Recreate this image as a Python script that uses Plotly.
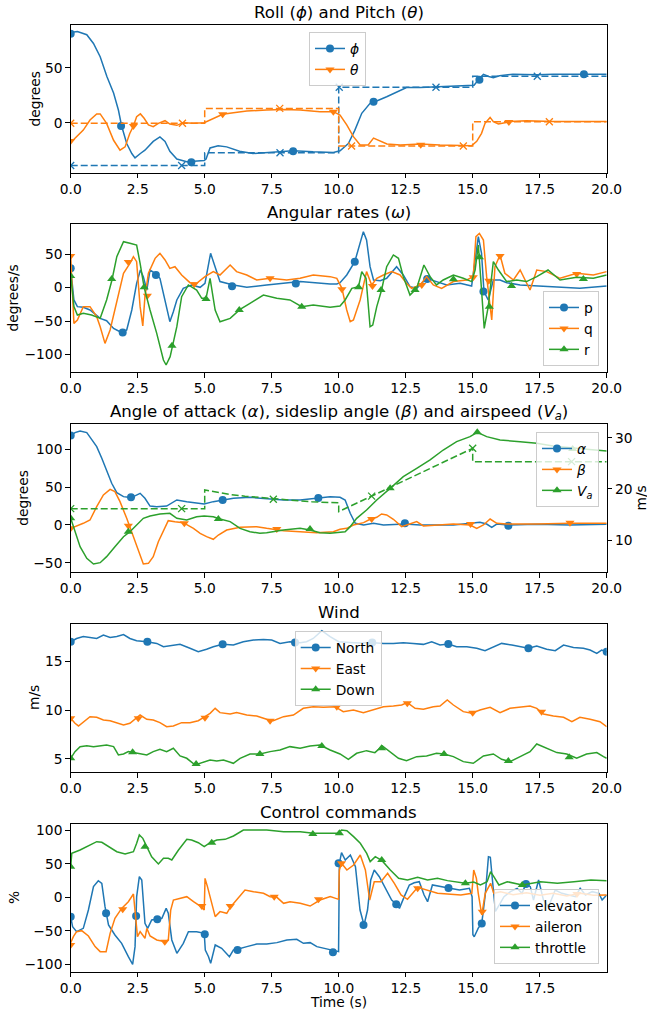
import plotly.graph_objects as go

# ---------------- data ----------------
PHI_T = [0, 0.25, 0.6, 0.85, 1.1, 1.35, 1.6, 1.78, 1.9, 2.09, 2.28, 2.4, 2.6, 2.77, 3.08, 3.33, 3.52, 3.7, 3.96, 4.33, 4.98, 5.05, 5.2, 5.5, 5.82, 6.3, 6.8, 7.56, 8.3, 9.05, 9.8, 10.05, 10.36, 10.6, 10.86, 11.17, 11.35, 11.79, 12.16, 12.53, 13.04, 13.78, 14.65, 15.05, 15.2, 15.4, 15.6, 15.77, 16.0, 16.5, 17.4, 18.0, 19.25, 20]
PHI_V = [82, 83, 80, 72, 60, 42, 27, 11.5, -3, -19, -28, -32, -28, -25, -17, -13, -17, -26, -33, -35.5, -34.5, -33, -23, -21, -22, -26, -28, -26.5, -25.5, -26.5, -27, -25.5, -19, -7, 8.5, 17.6, 19, 23.6, 28, 32, 32, 32.7, 33.3, 34, 38.5, 44, 42, 41, 42.7, 44, 43.6, 44, 44, 44]
PHI_MT = [0, 1.88, 4.5, 8.3, 11.3, 15.25, 19.15]
PHI_MV = [81, -3, -36, -26, 19, 39, 44]

THETA_T = [0, 0.22, 0.47, 0.72, 0.97, 1.1, 1.34, 1.6, 1.84, 2.03, 2.2, 2.34, 2.46, 2.6, 2.74, 2.9, 3.08, 3.27, 3.52, 3.7, 3.96, 4.2, 4.58, 4.98, 5.32, 5.67, 6.07, 6.57, 7.31, 7.94, 8.56, 9.3, 9.8, 10.05, 10.3, 10.55, 10.8, 11.1, 11.3, 11.48, 11.8, 12.3, 13.04, 13.78, 14.53, 14.96, 15.15, 15.33, 15.46, 15.65, 15.77, 15.96, 16.2, 16.4, 17.0, 18.0, 20]
THETA_V = [-18, -12.7, -6.7, 2.4, 8, 8, -0.6, -16, -25, -22, -10, -3, 5.5, 8, 4, -2, -3.6, -0.6, 1.8, -1.2, -2.4, 0, -0.6, 0, 4, 7.6, 9, 10.6, 11.5, 12, 11.5, 10, 10, 7, -2, -12.7, -20.3, -20.3, -14, -16, -19.4, -20.3, -19.4, -20.3, -21, -21, -17, -9.7, -0.6, 4.8, 1, -1.2, 0, 1, 1.8, 1, 1]
THETA_MT = [0, 2.34, 5.67, 9.8, 13.06, 16.35]
THETA_MV = [-16.6, -3, 7.6, 10, -20, 0.6]

PHIREF_T = [0, 5, 5, 10, 10, 15, 15, 20]
PHIREF_V = [-39, -39, -27.3, -27.3, 32.2, 32.2, 42.2, 42.2]
PHIREF_MT = [0, 4.14, 7.81, 10.02, 13.63, 17.41]
PHIREF_MV = [-39, -39, -27.3, 32.2, 32.2, 42.2]
THETAREF_T = [0, 5, 5, 10, 10, 15, 15, 20]
THETAREF_V = [-0.5, -0.5, 13, 13, -21.2, -21.2, 0.9, 0.9]
THETAREF_MT = [0, 4.17, 7.8, 10.48, 14.65, 17.86]
THETAREF_MV = [-0.5, -0.5, 13, -21.2, -21.2, 0.9]

P_T = [0, 0.12, 0.25, 0.47, 0.72, 0.97, 1.1, 1.34, 1.6, 1.84, 1.94, 2.09, 2.28, 2.46, 2.6, 2.71, 2.84, 2.96, 3.15, 3.33, 3.52, 3.7, 3.83, 3.96, 4.2, 4.51, 4.83, 5.01, 5.22, 5.39, 5.57, 6.07, 6.57, 7.31, 8.06, 8.56, 9.68, 9.93, 10.05, 10.3, 10.6, 10.77, 10.92, 11.04, 11.17, 11.3, 11.55, 11.79, 12.16, 12.41, 12.66, 12.91, 13.28, 13.65, 14.03, 14.53, 14.96, 15.09, 15.21, 15.33, 15.42, 15.58, 15.77, 16.02, 16.27, 16.77, 17.39, 18.0, 19.0, 20]
P_V = [28.8, -18.5, -28.5, -29.5, -33.5, -41, -46, -49.5, -61, -66, -67, -63.4, -33.5, 6.4, 26.3, 16.4, -3.6, 26.3, 21.4, 13.9, -18.5, -51, -36, -18.5, -1, 4, 0.4, 6.4, 51.3, 31.3, 9, 4, 0.4, 4, 7.4, 9, 5.4, 5.4, 7.4, 18.9, 38.8, 61.3, 83.7, 71.2, 31.3, 11.4, 10.4, 13.9, 31.3, 18.9, 1.4, -1.1, 13.9, 9, 4, 6.4, 2.4, 41.3, 76.2, 51.3, -6, -18.5, 11.4, 11.4, 7.4, 4, 2.4, 1.4, -1.1, 2.4]
P_MT = [0, 1.94, 3.18, 6.02, 8.4, 10.6, 13.3, 15.4]
P_MV = [28.8, -67, 19, 2, 6, 38.8, 12.9, -6]

Q_T = [0, 0.12, 0.25, 0.47, 0.72, 0.97, 1.1, 1.28, 1.47, 1.72, 1.97, 2.21, 2.34, 2.46, 2.59, 2.69, 2.77, 2.9, 3.15, 3.33, 3.52, 3.7, 3.89, 4.14, 4.45, 4.7, 5.01, 5.32, 5.57, 5.95, 6.19, 6.57, 6.94, 7.44, 8.06, 8.56, 9.05, 9.68, 9.93, 10.12, 10.3, 10.43, 10.55, 10.8, 11.04, 11.23, 11.42, 11.67, 11.98, 12.29, 12.53, 12.72, 13.04, 13.28, 13.53, 13.84, 14.28, 14.78, 15.02, 15.12, 15.25, 15.4, 15.52, 15.71, 15.83, 16.02, 16.2, 16.52, 16.77, 17.14, 17.39, 17.76, 18.26, 18.88, 19.5, 20]
Q_V = [47.3, -53.5, -48.5, -28.5, -28.5, -43.5, -58.5, -83.4, -63.4, -18.5, 21.4, 36.3, 46.3, 38.8, -28.5, -57.4, -13.5, 21.4, 43.8, 51.3, 41.3, 28.8, 31.3, 18.9, 7.4, 6.4, 16.4, 23.9, 18.9, 33.8, 23.9, 18.9, 11.4, 13.9, 11.4, 13.9, 18.9, 16.4, 13.9, -1.1, -33.5, -51, -48.5, -18.5, 23.9, 4, 13.9, 18.9, 23.9, 18.9, 6.4, -1.1, 4, 16.4, 4, -1.1, 9, 11.4, 16.4, 76.2, 81.2, 71.2, 16.4, -48.5, 31.3, 48.8, 21.4, 11.4, 26.3, -3.6, 26.3, 23.9, 13.9, 21.4, 18.9, 23.9]
Q_MT = [0, 2.15, 2.86, 4.61, 7.44, 10.12, 11.26, 13.1, 15.02, 15.6, 16.02, 18.88]
Q_MV = [47.3, 38.3, -12, 5, 13.9, -2.6, 2.4, 4, 15.4, 10.4, 47.3, 20.4]

R_T = [0, 0.12, 0.25, 0.47, 0.78, 1.1, 1.34, 1.54, 1.72, 1.97, 2.21, 2.46, 2.59, 2.74, 2.96, 3.21, 3.46, 3.56, 3.71, 3.81, 3.96, 4.14, 4.39, 4.7, 4.89, 5.05, 5.2, 5.39, 5.57, 5.95, 6.32, 6.69, 7.19, 7.69, 8.18, 8.62, 9.05, 9.68, 10.05, 10.24, 10.49, 10.74, 10.86, 11.02, 11.17, 11.27, 11.42, 11.6, 11.79, 12.04, 12.23, 12.41, 12.66, 12.91, 13.18, 13.41, 13.65, 13.9, 14.28, 14.65, 14.96, 15.09, 15.21, 15.33, 15.43, 15.58, 15.77, 15.96, 16.27, 16.64, 17.01, 17.39, 17.81, 18.26, 18.88, 19.5, 20]
R_V = [18.9, -28.5, -41, -38.5, -41, -46, -18.5, 11.4, 46.3, 68.7, 66.2, 63.7, 36.3, 0.4, -33.5, -68.4, -108.3, -115.8, -103.3, -85.9, -58.5, -13.5, 4, -3.6, -16, -16, 13.9, -33.5, -51, -46, -32.5, -23.5, -11.1, -16, -18.5, -28.5, -26, -29.5, -27.5, -18.5, -1.1, 1.4, 23.9, 13.9, -58.5, -56, -28.5, -3.6, 31.3, 48.8, 43.8, 16.4, -11.1, -1.1, 33.8, 16.4, 4, 11.4, 18.9, 13.9, 9, 26.3, 63.8, -3.6, -61, -28.5, 38.8, 26.3, 9, 11.4, 9, 16.4, 26.3, 11.4, 15.4, 13.9, 18.9]
R_MT = [0, 1.53, 2.74, 3.78, 5.05, 6.29, 8.62, 10.74, 11.58, 12.85, 14.28, 15.25, 15.62, 16.45, 19.13]
R_MV = [17.4, 12.9, 0.4, -86.9, -17, -33.5, -28.5, 0.4, -3.6, -3.6, 12.4, 45.3, -28.5, 2.4, 12.9]

ALPHA_T = [0, 0.16, 0.35, 0.6, 0.78, 0.97, 1.16, 1.34, 1.53, 1.72, 1.97, 2.15, 2.34, 2.59, 2.77, 2.96, 3.21, 3.58, 3.96, 4.33, 4.7, 4.98, 5.32, 5.67, 6.07, 6.69, 7.31, 7.94, 8.56, 9.18, 9.68, 10.05, 10.24, 10.43, 10.62, 10.93, 11.3, 11.67, 12.47, 13.04, 14.28, 15.27, 15.52, 15.71, 15.9, 16.33, 17.39, 18.63, 20]
ALPHA_V = [118, 121.8, 124, 121.8, 113, 103.3, 88, 72.6, 55, 42.7, 37.4, 36.5, 37.4, 41.8, 35.2, 25, 24.2, 25, 33, 30.8, 28.6, 27.7, 30.8, 33, 35.2, 36.5, 35.2, 33, 33, 35.2, 37.4, 36.5, 33, 15.4, 2.2, 0, 2.2, 0, 1.3, 0, 0, 3.5, 1.3, -3, 1.3, 0, 0.9, 0, 0.9]
ALPHA_MT = [0, 2.25, 5.67, 9.24, 12.47, 16.33]
ALPHA_MV = [118, 36.5, 33, 35.6, 2.2, -1]

BETA_T = [0, 0.16, 0.47, 0.72, 0.97, 1.22, 1.47, 1.65, 1.84, 2.09, 2.34, 2.52, 2.71, 2.9, 3.08, 3.27, 3.46, 3.64, 3.89, 4.2, 4.58, 4.83, 5.07, 5.32, 5.51, 5.82, 6.32, 6.94, 7.31, 7.94, 8.56, 9.18, 9.8, 10.05, 10.3, 10.55, 10.93, 11.17, 11.42, 11.6, 11.79, 12.04, 12.35, 12.66, 12.91, 13.16, 13.65, 14.28, 14.9, 15.15, 15.4, 15.65, 15.9, 16.27, 17.39, 18.63, 20]
BETA_V = [-4.4, -2.2, 2.2, 6.6, 24.2, 39.6, 47, 44, 30.8, 8.8, -15.4, -33, -51.5, -50.6, -41.8, -22, -6.6, 5.7, 4.4, 3.1, -4.4, -11, -15.4, -18.9, -13.2, -6.6, -3.1, -2.2, -4.4, -7.5, -8.8, -10.1, -8.8, -5.7, -4.4, 0, 3.1, 7.5, 10.1, 14.5, 13.2, 7.5, -2.2, 1.3, 4.4, -1.3, 0, 1.3, 0, -4.4, 0, 7.9, 2.2, 1.3, 1.3, 2.2, 2.2]
BETA_MT = [0, 2.15, 4.24, 7.69, 11.23, 14.92, 18.63]
BETA_MV = [-4.4, -0.9, 2.2, -5.3, 7.9, 1.3, 3.1]

VA_T = [0, 0.16, 0.35, 0.6, 0.85, 1.1, 1.34, 1.65, 1.97, 2.21, 2.46, 2.71, 2.96, 3.33, 3.7, 3.96, 4.33, 4.7, 4.98, 5.32, 5.57, 5.95, 6.32, 6.69, 7.06, 7.31, 7.94, 8.56, 8.93, 9.3, 9.68, 9.99, 10.24, 10.43, 10.67, 11.04, 11.42, 11.92, 12.41, 12.91, 13.41, 13.9, 14.4, 14.9, 15.17, 15.52, 16.02, 16.77, 17.39, 18.0, 18.76, 19.25, 20]
VA_V = [14.27, 11.66, 8.73, 6.45, 5.34, 5.6, 6.78, 8.73, 10.68, 11.66, 12.96, 14.27, 14.72, 15.11, 15.24, 14.27, 13.94, 14.59, 14.72, 14.59, 14.14, 13.62, 12.31, 11.66, 11.34, 11.47, 11.99, 12.31, 11.99, 11.47, 11.34, 11.47, 11.66, 12.64, 14.27, 15.9, 17.85, 20.13, 22.41, 24.04, 25.67, 27.62, 29.25, 30.23, 31.07, 30.23, 29.58, 29.25, 28.92, 28.4, 27.95, 27.75, 27.43]
VA_MT = [0, 2.15, 5.51, 8.93, 11.92, 15.17, 18.73]
VA_MV = [14.27, 11.66, 14.14, 12.2, 20.13, 31.07, 27.8]

VAREF_T = [0, 5, 5, 5.5, 6.0, 6.5, 7.0, 7.5, 8.0, 8.5, 9.0, 9.5, 10, 10, 15, 15, 20]
VAREF_V = [16.16, 16.16, 19.8, 19.3, 18.9, 18.6, 18.35, 18.1, 17.9, 17.7, 17.5, 17.4, 17.3, 15.57, 27.95, 25.34, 25.34]
VAREF_MT = [0, 4.14, 7.56, 11.23, 15.0, 18.69]
VAREF_MV = [16.16, 16.16, 18.0, 18.6, 27.95, 25.34]

N_T = [0, 0.22, 0.47, 0.72, 0.97, 1.22, 1.47, 1.72, 1.97, 2.21, 2.46, 2.84, 3.21, 3.46, 3.7, 4.08, 4.45, 4.76, 5.07, 5.32, 5.67, 6.07, 6.44, 6.82, 7.19, 7.5, 7.81, 8.18, 8.56, 8.8, 9.05, 9.37, 9.68, 10.0, 10.4, 10.8, 11.2, 11.67, 12.04, 12.41, 12.78, 13.16, 13.47, 13.78, 14.09, 14.4, 14.78, 15.15, 15.46, 15.77, 16.08, 16.46, 16.77, 17.08, 17.39, 17.76, 18.08, 18.39, 18.76, 19.13, 19.38, 19.63, 19.81, 20]
N_V = [16.97, 17.3, 17.5, 17.4, 17.3, 17.65, 17.4, 17.5, 17.7, 17.3, 17.07, 16.97, 16.8, 16.46, 16.53, 16.7, 16.3, 15.95, 16.2, 16.46, 16.7, 16.63, 16.97, 17.14, 17.2, 17.14, 16.8, 16.97, 16.87, 16.97, 17.3, 18.1, 17.5, 16.97, 16.9, 16.85, 16.9, 16.8, 16.8, 16.87, 16.8, 16.7, 16.97, 16.63, 16.73, 16.46, 16.46, 16.3, 16.05, 16.46, 16.8, 16.63, 16.46, 16.3, 16.53, 16.2, 16.05, 16.63, 16.39, 16.3, 16.12, 15.78, 16.12, 15.95]
N_MT = [0, 2.86, 5.67, 8.37, 11.25, 14.09, 17.08, 20]
N_MV = [16.97, 16.97, 16.7, 16.9, 16.9, 16.73, 16.3, 15.95]

E_T = [0, 0.16, 0.29, 0.47, 0.72, 0.97, 1.22, 1.47, 1.72, 1.97, 2.21, 2.4, 2.59, 2.84, 3.08, 3.33, 3.58, 3.83, 4.14, 4.45, 4.76, 5.01, 5.2, 5.39, 5.57, 5.95, 6.19, 6.57, 6.94, 7.31, 7.56, 7.94, 8.31, 8.68, 9.05, 9.43, 9.68, 9.86, 10.17, 10.55, 10.92, 11.3, 11.67, 12.04, 12.35, 12.56, 12.85, 13.16, 13.53, 13.78, 14.05, 14.28, 14.65, 14.96, 15.27, 15.65, 16.02, 16.39, 16.77, 17.14, 17.39, 17.64, 18.01, 18.39, 18.7, 19.0, 19.38, 19.75, 20]
E_V = [9.15, 8.64, 8.37, 8.81, 9.32, 9.25, 8.98, 8.91, 8.71, 8.47, 8.64, 9.05, 9.49, 9.05, 8.98, 8.71, 8.3, 8.37, 8.71, 8.71, 8.91, 9.32, 9.66, 10.17, 9.73, 9.59, 9.73, 9.49, 9.39, 9.05, 8.91, 9.32, 9.49, 10.17, 10.34, 10.27, 10.34, 10.34, 9.83, 10.0, 9.73, 10.0, 10.34, 10.41, 10.51, 10.75, 10.17, 10.07, 10.34, 10.41, 11.02, 10.51, 9.83, 9.66, 10.0, 10.27, 9.73, 10.17, 10.27, 10.41, 10.17, 9.59, 9.39, 9.25, 8.81, 9.25, 9.05, 8.81, 8.3]
E_MT = [0, 2.52, 5.01, 7.44, 9.93, 12.56, 15.0, 17.57]
E_MV = [9.15, 9.15, 9.22, 8.91, 10.34, 10.68, 9.73, 9.83]

D_T = [0, 0.16, 0.35, 0.6, 0.85, 1.1, 1.34, 1.6, 1.78, 1.97, 2.15, 2.34, 2.59, 2.84, 3.08, 3.33, 3.58, 3.83, 4.08, 4.33, 4.64, 4.95, 5.2, 5.45, 5.7, 6.07, 6.32, 6.69, 7.06, 7.44, 7.81, 8.18, 8.56, 8.93, 9.3, 9.68, 10.05, 10.36, 10.67, 11.04, 11.35, 11.63, 11.92, 12.23, 12.53, 12.91, 13.28, 13.65, 13.93, 14.28, 14.65, 15.02, 15.4, 15.77, 16.08, 16.39, 16.77, 17.14, 17.39, 17.76, 18.14, 18.51, 18.88, 19.25, 19.63, 19.88, 20]
D_V = [5.07, 5.75, 6.26, 6.36, 6.26, 6.33, 6.43, 6.26, 5.41, 5.51, 5.75, 5.65, 5.51, 5.41, 5.75, 5.99, 5.75, 6.09, 5.31, 5.07, 4.39, 4.63, 4.9, 4.8, 4.9, 4.56, 5.07, 5.51, 5.51, 5.75, 5.92, 6.26, 6.09, 6.33, 6.43, 5.92, 5.51, 4.97, 5.58, 5.85, 5.65, 6.33, 5.75, 5.07, 4.83, 5.24, 5.31, 5.58, 5.51, 5.24, 4.73, 4.56, 5.31, 5.51, 4.97, 4.73, 5.24, 5.75, 6.53, 6.09, 5.65, 5.51, 5.07, 5.51, 5.65, 5.24, 5.07]
D_MT = [0, 2.31, 4.68, 7.06, 9.37, 11.6, 13.93, 16.33, 18.6]
D_MV = [5.07, 5.68, 4.49, 5.51, 6.33, 6.09, 5.51, 4.8, 5.17]

EL_T = [0, 0.07, 0.22, 0.47, 0.66, 0.85, 1.03, 1.16, 1.28, 1.41, 1.65, 1.9, 2.15, 2.31, 2.4, 2.46, 2.56, 2.65, 2.77, 2.87, 3.02, 3.21, 3.4, 3.56, 3.64, 3.77, 3.96, 4.2, 4.39, 4.7, 4.98, 5.02, 5.14, 5.22, 5.39, 5.63, 5.92, 6.07, 6.22, 6.57, 6.94, 7.31, 7.69, 8.06, 8.43, 8.68, 8.93, 9.18, 9.68, 9.99, 10.02, 10.1, 10.24, 10.43, 10.62, 10.79, 10.94, 11.07, 11.19, 11.32, 11.51, 11.76, 11.97, 12.14, 12.26, 12.44, 12.63, 12.81, 13.0, 13.18, 13.31, 13.49, 13.74, 14.09, 14.5, 14.87, 14.97, 15.0, 15.05, 15.2, 15.33, 15.46, 15.58, 15.65, 15.74, 15.84, 16.0, 16.16, 16.4, 16.65, 16.83, 16.98, 17.14, 17.26, 17.45, 17.63, 17.82, 18.07, 18.32, 18.57, 18.82, 19.0, 19.2, 19.45, 19.7, 19.82, 19.99]
EL_V = [-28.9, -43.9, -51.4, -46.4, -19, 16, 24.9, 20.9, -14, -41.4, -56.4, -68.8, -88.8, -100.2, -73.8, 1, 30.9, 25.9, -38.9, -46.4, -33.9, -32.9, -31.4, -16.5, -23.9, -63.8, -83.8, -68.8, -51.4, -51.4, -53.9, -78.8, -88.8, -98.8, -71.3, -76.3, -88.8, -78.8, -77.8, -73.8, -69.8, -69.8, -67.8, -63.8, -62.8, -68.8, -67.8, -73.8, -78.8, -81.3, 50.9, 66.8, 55.9, 63.3, 45.9, -19, -41.4, -19, 25.9, 40.9, 30.9, 11, -4, -10, -16.5, 1, 18.5, 21.9, 23.4, 3.5, -6.5, 18.5, 17, 14, 11, 13.5, 1, -56, -59, -46, -39, 3.5, 60.8, 60, 21, -21, -10, 1, 8.5, 13.5, 6, 20, 16, -4, 26, -4, -14, 11, 6, 3.5, 1, 13.5, 3.5, 8.5, 6, -4, 3.5]
EL_MT = [0, 1.32, 2.44, 3.23, 5.0, 6.22, 9.78, 9.99, 10.92, 12.14, 14.09, 15.33, 16.98]
EL_MV = [-28.9, -23.9, -27.9, -32.9, -55.4, -78.8, -82.3, 50.9, -41.4, -10.5, 14, -39, 20]

AIL_T = [0, 0.1, 0.22, 0.41, 0.66, 0.91, 1.1, 1.32, 1.47, 1.65, 1.9, 2.15, 2.34, 2.4, 2.49, 2.59, 2.77, 2.84, 2.96, 3.21, 3.52, 3.64, 3.73, 3.83, 4.08, 4.33, 4.58, 4.83, 4.98, 5.01, 5.1, 5.26, 5.39, 5.57, 5.82, 5.97, 6.13, 6.32, 6.5, 6.82, 7.19, 7.44, 7.69, 7.94, 8.18, 8.56, 8.93, 9.3, 9.68, 9.99, 10.02, 10.1, 10.3, 10.55, 10.8, 10.99, 11.15, 11.32, 11.57, 11.82, 12.07, 12.32, 12.56, 12.94, 13.31, 13.68, 14.05, 14.55, 14.96, 15.03, 15.13, 15.2, 15.33, 15.46, 15.66, 15.78, 16.03, 16.5, 17.0, 17.5, 18.0, 18.5, 19.0, 19.5, 19.99]
AIL_V = [-68, -58.9, -51.4, -49.9, -57.9, -73.8, -81.3, -81.3, -53.9, -31.4, -16.5, -6.5, 5, -23.9, -58.9, -51.4, -61.3, -46.4, -57.9, -63.8, -66.3, -63.8, -19, -4, -1.5, 1, -6.5, -13, -19, 28.4, 16, -9, -28.9, -21.4, -23.9, -14, -6.5, 1, 11, 8.5, 6, 1, 0, -9, -6.5, -9, -13, -4, 1, -3, 40.9, 50.9, 40.9, 48.4, 63.3, 40.9, -4, 23.4, 23.4, 35.9, 20.9, 3.5, -3, 15, 10, 6, 5, 3.5, 6, 40.9, 28.4, 6, -26.4, 6, 21, 6, 8.5, 4, 7, 3, 6, 2, 6, 3, 3.5]
AIL_MT = [0, 1.94, 3.51, 4.89, 5.95, 7.59, 9.24, 10.1, 12.94, 15.35, 18.88]
AIL_MV = [-71.3, -18, -66.3, -13, -13, 1, -3, 50.9, 13.5, -21.4, 5]

THR_T = [0, 0.04, 0.35, 0.72, 0.97, 1.16, 1.41, 1.72, 2.03, 2.34, 2.46, 2.56, 2.69, 2.84, 3.02, 3.27, 3.46, 3.64, 3.77, 4.02, 4.33, 4.51, 4.76, 4.98, 5.2, 5.45, 5.76, 6.07, 6.44, 6.82, 7.31, 7.94, 8.56, 9.05, 9.68, 9.99, 10.1, 10.3, 10.55, 10.8, 11.04, 11.17, 11.36, 11.61, 11.92, 12.23, 12.56, 12.94, 13.31, 13.68, 14.05, 14.28, 14.72, 15.03, 15.28, 15.53, 15.66, 15.78, 15.97, 16.28, 16.84, 17.52, 18.15, 18.77, 19.4, 19.99]
THR_V = [45.9, 65.8, 70.8, 78.3, 83.3, 82.3, 75.8, 68.3, 64.8, 68.3, 80.8, 93.3, 88.3, 75.8, 60.8, 49.9, 58.4, 58.4, 55.9, 70.8, 86.8, 85.8, 81.8, 75.8, 81.8, 85.8, 86.8, 91.8, 100.7, 100.7, 100.7, 98.3, 98.3, 95.8, 95.8, 95.8, 100.7, 99.8, 90.8, 80.8, 65.8, 53.4, 60.8, 54.9, 40.9, 28.4, 25.9, 29.9, 25.9, 28.4, 25, 23.4, 21, 23, 18.5, 23.4, 38.4, 31, 18.5, 23.4, 18.5, 23.4, 21, 23.4, 26, 25]
THR_MT = [0, 2.77, 5.26, 9.03, 10.02, 11.6, 14.72, 16.84]
THR_MV = [45.9, 75.8, 81.8, 94.8, 95.8, 55.9, 21, 18.5]

X_TICKS = [0, 2.5, 5, 7.5, 10, 12.5, 15, 17.5, 20]
X_TICKTEXT = ["0.0", "2.5", "5.0", "7.5", "10.0", "12.5", "15.0", "17.5", "20.0"]

# ---------------- styling / layout ----------------
BLUE, ORANGE, GREEN = "#1f77b4", "#ff7f0e", "#2ca02c"
FONT = "DejaVu Sans"
W, H = 647, 1012
X0, X1 = 70.7, 606.7
PANELS = [(24.5, 172.5), (224.3, 372.3), (424.0, 572.3), (623.7, 772.3), (823.5, 971.7)]
TICK_FS = 13.8
TITLE_FS = 16.6

fig = go.Figure()


def line(t, v, color, xa, ya, dash=None):
    fig.add_trace(go.Scatter(x=t, y=v, mode="lines", xaxis=xa, yaxis=ya,
                             line=dict(color=color, width=1.5, dash=dash),
                             showlegend=False, hoverinfo="skip"))


def marks(t, v, color, symbol, xa, ya, size=8):
    if symbol == "x-thin":
        mk = dict(symbol=symbol, size=7, color=color, line=dict(color=color, width=1.3))
    else:
        mk = dict(symbol=symbol, size=size, color=color, line=dict(width=0))
    fig.add_trace(go.Scatter(x=t, y=v, mode="markers", xaxis=xa, yaxis=ya,
                             marker=mk, showlegend=False, hoverinfo="skip"))


def entry(name, color, symbol, xa, ya, legend):
    fig.add_trace(go.Scatter(x=[None], y=[None], mode="lines+markers", name=name,
                             xaxis=xa, yaxis=ya, legend=legend,
                             line=dict(color=color, width=1.5),
                             marker=dict(symbol=symbol, size=8, color=color)))


DASH = "7px,3px"
# Panel 1
line(PHI_T, PHI_V, BLUE, "x", "y")
marks(PHI_MT, PHI_MV, BLUE, "circle", "x", "y")
line(THETA_T, THETA_V, ORANGE, "x", "y")
marks(THETA_MT, THETA_MV, ORANGE, "triangle-down", "x", "y")
line(PHIREF_T, PHIREF_V, BLUE, "x", "y", DASH)
marks(PHIREF_MT, PHIREF_MV, BLUE, "x-thin", "x", "y")
line(THETAREF_T, THETAREF_V, ORANGE, "x", "y", DASH)
marks(THETAREF_MT, THETAREF_MV, ORANGE, "x-thin", "x", "y")
entry("<i>ϕ</i>", BLUE, "circle", "x", "y", "legend")
entry("<i>θ</i>", ORANGE, "triangle-down", "x", "y", "legend")

# Panel 2
line(P_T, P_V, BLUE, "x2", "y2")
marks(P_MT, P_MV, BLUE, "circle", "x2", "y2")
line(Q_T, Q_V, ORANGE, "x2", "y2")
marks(Q_MT, Q_MV, ORANGE, "triangle-down", "x2", "y2")
line(R_T, R_V, GREEN, "x2", "y2")
marks(R_MT, R_MV, GREEN, "triangle-up", "x2", "y2")
entry("p", BLUE, "circle", "x2", "y2", "legend2")
entry("q", ORANGE, "triangle-down", "x2", "y2", "legend2")
entry("r", GREEN, "triangle-up", "x2", "y2", "legend2")

# Panel 3
line(ALPHA_T, ALPHA_V, BLUE, "x3", "y3")
marks(ALPHA_MT, ALPHA_MV, BLUE, "circle", "x3", "y3")
line(BETA_T, BETA_V, ORANGE, "x3", "y3")
marks(BETA_MT, BETA_MV, ORANGE, "triangle-down", "x3", "y3")
line(VA_T, VA_V, GREEN, "x3", "y6")
marks(VA_MT, VA_MV, GREEN, "triangle-up", "x3", "y6")
line(VAREF_T, VAREF_V, GREEN, "x3", "y6", DASH)
marks(VAREF_MT, VAREF_MV, GREEN, "x-thin", "x3", "y6")
entry("<i>α</i>", BLUE, "circle", "x3", "y3", "legend3")
entry("<i>β</i>", ORANGE, "triangle-down", "x3", "y3", "legend3")
entry("<i>V</i><sub><i>a</i></sub>", GREEN, "triangle-up", "x3", "y3", "legend3")

# Panel 4
line(N_T, N_V, BLUE, "x4", "y4")
marks(N_MT, N_MV, BLUE, "circle", "x4", "y4")
line(E_T, E_V, ORANGE, "x4", "y4")
marks(E_MT, E_MV, ORANGE, "triangle-down", "x4", "y4")
line(D_T, D_V, GREEN, "x4", "y4")
marks(D_MT, D_MV, GREEN, "triangle-up", "x4", "y4")
entry("North", BLUE, "circle", "x4", "y4", "legend4")
entry("East", ORANGE, "triangle-down", "x4", "y4", "legend4")
entry("Down", GREEN, "triangle-up", "x4", "y4", "legend4")

# Panel 5
line(EL_T, EL_V, BLUE, "x5", "y5")
marks(EL_MT, EL_MV, BLUE, "circle", "x5", "y5")
line(AIL_T, AIL_V, ORANGE, "x5", "y5")
marks(AIL_MT, AIL_MV, ORANGE, "triangle-down", "x5", "y5")
line(THR_T, THR_V, GREEN, "x5", "y5")
marks(THR_MT, THR_MV, GREEN, "triangle-up", "x5", "y5")
entry("elevator", BLUE, "circle", "x5", "y5", "legend5")
entry("aileron", ORANGE, "triangle-down", "x5", "y5", "legend5")
entry("throttle", GREEN, "triangle-up", "x5", "y5", "legend5")


def px(xv):
    return xv / W


def py(yv):
    return 1 - yv / H


def minus(v):
    s = ("%g" % v)
    return s.replace("-", "\u2212")


axis_common = dict(showline=True, mirror=True, linecolor="black", linewidth=1,
                   ticks="outside", ticklen=4.5, tickwidth=1, tickcolor="black",
                   showgrid=False, zeroline=False, automargin=False,
                   tickfont=dict(family=FONT, size=TICK_FS, color="black"))

Y_RANGES = [[-45.3, 89.3], [-126.7, 94.7], [-62.4, 133.2], [3.64, 18.81], [-111.3, 110.5]]
Y_TICKS = [[0, 50], [-100, -50, 0, 50], [-50, 0, 50, 100], [5, 10, 15], [-100, -50, 0, 50, 100]]

layout = dict(width=W, height=H, margin=dict(l=0, r=0, t=0, b=0, pad=0, autoexpand=False),
              paper_bgcolor="white", plot_bgcolor="white",
              font=dict(family=FONT, size=TICK_FS, color="black"))
for i, (top, bot) in enumerate(PANELS):
    n = i + 1
    sx = "" if n == 1 else str(n)
    xr = [0, 19.99] if n == 5 else [0, 20]
    xt = X_TICKS[:-1] if n == 5 else X_TICKS
    xtt = X_TICKTEXT[:-1] if n == 5 else X_TICKTEXT
    layout["xaxis" + sx] = dict(axis_common, domain=[px(X0), px(X1)], anchor="y" + sx,
                                range=xr, tickvals=xt, ticktext=xtt, ticklabelstandoff=-1)
    layout["yaxis" + sx] = dict(axis_common, domain=[py(bot), py(top)], anchor="x" + sx,
                                range=Y_RANGES[i], tickvals=Y_TICKS[i],
                                ticktext=[minus(v) for v in Y_TICKS[i]])
layout["yaxis6"] = dict(axis_common, overlaying="y3", side="right", anchor="x3",
                        range=[3.72, 32.7], tickvals=[10, 20, 30], ticktext=["10", "20", "30"],
                        mirror=False)

leg_common = dict(bgcolor="rgba(255,255,255,0.8)", bordercolor="#cccccc", borderwidth=1,
                  font=dict(family=FONT, size=TICK_FS, color="black"),
                  itemwidth=30, tracegroupgap=0, xref="paper", yref="paper")
layout["legend"] = dict(leg_common, x=px(309), y=py(32), xanchor="left", yanchor="top")
layout["legend2"] = dict(leg_common, x=px(599), y=py(366), xanchor="right", yanchor="bottom")
layout["legend3"] = dict(leg_common, x=px(599), y=py(432), xanchor="right", yanchor="top")
layout["legend4"] = dict(leg_common, x=px(294.7), y=py(631), xanchor="left", yanchor="top")
layout["legend5"] = dict(leg_common, x=px(599), y=py(964), xanchor="right", yanchor="bottom")

ann = []
TITLES = ["Roll (<i>ϕ</i>) and Pitch (<i>θ</i>)", "Angular rates (<i>ω</i>)",
          "Angle of attack (<i>α</i>), sideslip angle (<i>β</i>) and airspeed (<i>V</i><sub><i>a</i></sub>)",
          "Wind", "Control commands"]
TITLE_Y = [12.7, 212.7, 412.7, 612.7, 812.7]
for txt, yv in zip(TITLES, TITLE_Y):
    ann.append(dict(text=txt, x=px((X0 + X1) / 2), y=py(yv), xref="paper", yref="paper",
                    xanchor="center", yanchor="middle", showarrow=False,
                    font=dict(family=FONT, size=TITLE_FS, color="black")))
YLABELS = [("degrees", 35, 98.5), ("degrees/s", 13.3, 298.3), ("degrees", 22.7, 498),
           ("m/s", 640.5, 498), ("m/s", 34, 698), ("%", 13.3, 897.6)]
for txt, xv, yv in YLABELS:
    ann.append(dict(text=txt, x=px(xv), y=py(yv), xref="paper", yref="paper",
                    xanchor="center", yanchor="middle", showarrow=False, textangle=-90,
                    font=dict(family=FONT, size=TICK_FS, color="black")))
ann.append(dict(text="Time (s)", x=px((X0 + X1) / 2), y=py(1002), xref="paper", yref="paper",
                xanchor="center", yanchor="middle", showarrow=False,
                font=dict(family=FONT, size=TICK_FS, color="black")))
layout["annotations"] = ann

fig.update_layout(**layout)
fig.write_html("out.html", config={"displayModeBar": False},
               post_script="document.body.style.margin='0';document.body.style.padding='0';")
